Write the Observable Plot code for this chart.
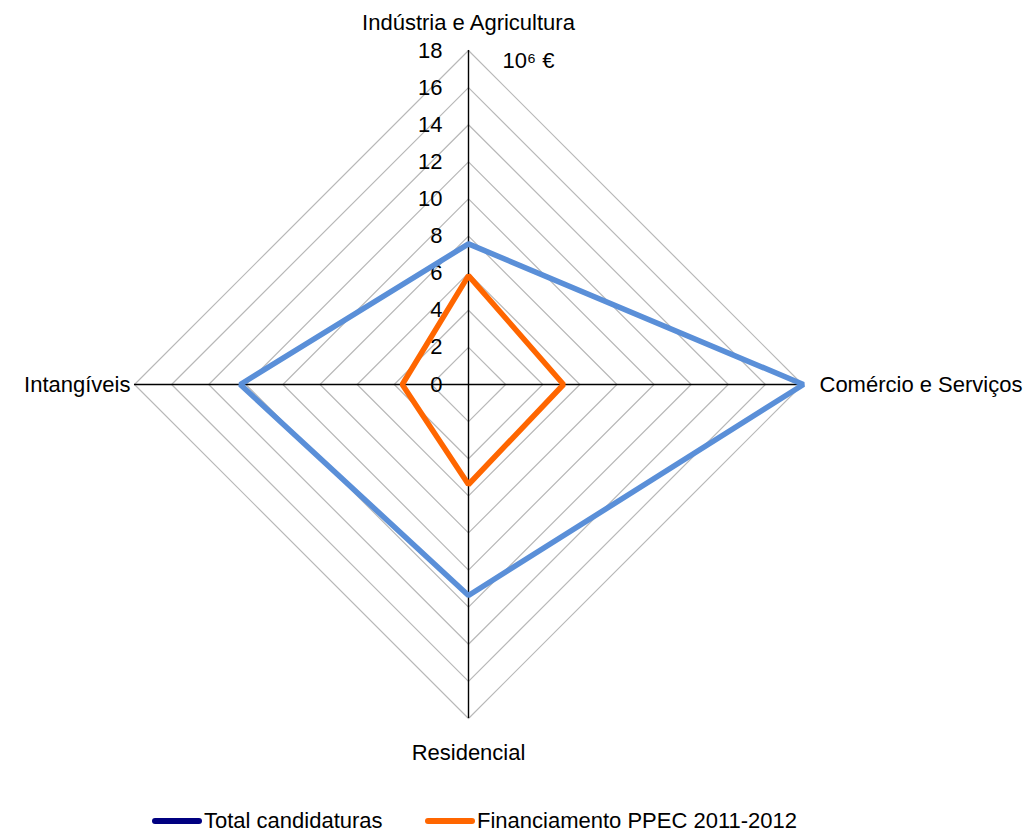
<!DOCTYPE html>
<html>
<head>
<meta charset="utf-8">
<script src="https://cdn.jsdelivr.net/npm/d3@7"></script>
<script src="https://cdn.jsdelivr.net/npm/@observablehq/plot@0.6"></script>
<style>
  body { margin: 0; background: #fff; font-family: "Liberation Sans", Arial, sans-serif; }
  #legend { position: relative; height: 35px; font-size: 22px; color: #000; }
  .item { position: absolute; top: 8px; display: flex; align-items: center; line-height: 26px; }
  .swatch { display: inline-block; width: 50px; height: 6px; border-radius: 3px; margin-right: 2px; }
</style>
</head>
<body>
<div id="chart"></div>
<div id="legend"></div>
<script>
// Sectors around the radar, clockwise from the top
const categories = ["Indústria e Agricultura", "Comércio e Serviços", "Residencial", "Intangíveis"];
const angles = [90, 0, -90, 180];
// Values in millions of euros
const totalCandidaturas = [7.58, 18.05, 11.37, 12.3];
const financiamentoPPEC = [5.87, 5.12, 5.39, 3.57];
const seriesNames = ["Total candidaturas", "Financiamento PPEC 2011-2012"];
const seriesColors = ["#5a8fd8", "#ff6600"];
const legendColors = ["#000080", "#ff6600"];
const tickValues = [0, 2, 4, 6, 8, 10, 12, 14, 16, 18];
const maxValue = 18;

const rad = a => a * Math.PI / 180;
const polar = (v, a) => ({x: v * Math.cos(rad(a)), y: v * Math.sin(rad(a))});

const rings = tickValues.filter(t => t > 0).flatMap(t =>
  angles.map(a => ({ring: t, ...polar(t, a)})));

const series = [totalCandidaturas, financiamentoPPEC].flatMap((vals, i) =>
  vals.map((v, j) => ({series: seriesNames[i], ...polar(v, angles[j])})));

const labelPos = categories.map((c, j) => ({name: c, ...polar(maxValue, angles[j])}));

const font = "Liberation Sans, Arial, sans-serif";
const fs = 22;

const chart = Plot.plot({
  width: 1031,
  height: 800,
  style: {fontFamily: font, fontSize: fs + "px", background: "#fff", overflow: "visible"},
  x: {domain: [-maxValue, maxValue], range: [134, 802], axis: null},
  y: {domain: [-maxValue, maxValue], range: [718, 50], axis: null},
  color: {domain: seriesNames, range: seriesColors},
  marks: [
    Plot.line(rings, {x: "x", y: "y", z: "ring", curve: "linear-closed", stroke: "#b8b8b8", strokeWidth: 1.2}),
    Plot.ruleX([0], {y1: -maxValue, y2: maxValue, stroke: "#000", strokeWidth: 1.4}),
    Plot.ruleY([0], {x1: -maxValue, x2: maxValue, stroke: "#000", strokeWidth: 1.4}),
    Plot.text(tickValues, {x: 0, y: d => d, text: d => String(d), textAnchor: "end", dx: -26, fill: "#000", fontSize: fs}),
    Plot.line(series, {x: "x", y: "y", z: "series", stroke: "series", curve: "linear-closed", strokeWidth: 5.5, strokeLinejoin: "miter"}),
    Plot.text([labelPos[0]], {x: "x", y: "y", text: "name", dy: -28, fill: "#000", fontSize: fs}),
    Plot.text([labelPos[1]], {x: "x", y: "y", text: "name", dx: 17, textAnchor: "start", fill: "#000", fontSize: fs}),
    Plot.text([labelPos[2]], {x: "x", y: "y", text: "name", dy: 34, fill: "#000", fontSize: fs}),
    Plot.text([labelPos[3]], {x: "x", y: "y", text: "name", dx: -4, textAnchor: "end", fill: "#000", fontSize: fs, letterSpacing: "0.9px"}),
    Plot.text(["10⁶ €"], {x: 0, y: maxValue, text: d => d, dx: 34, dy: 10, textAnchor: "start", fill: "#000", fontSize: fs})
  ]
});
document.getElementById("chart").appendChild(chart);

// Legend below the chart
const legend = document.getElementById("legend");
const legendX = [152, 425];
seriesNames.forEach((name, i) => {
  const item = document.createElement("div");
  item.className = "item";
  item.style.left = legendX[i] + "px";
  const sw = document.createElement("span");
  sw.className = "swatch";
  sw.style.background = legendColors[i];
  item.appendChild(sw);
  item.appendChild(document.createTextNode(name));
  legend.appendChild(item);
});
</script>
</body>
</html>
